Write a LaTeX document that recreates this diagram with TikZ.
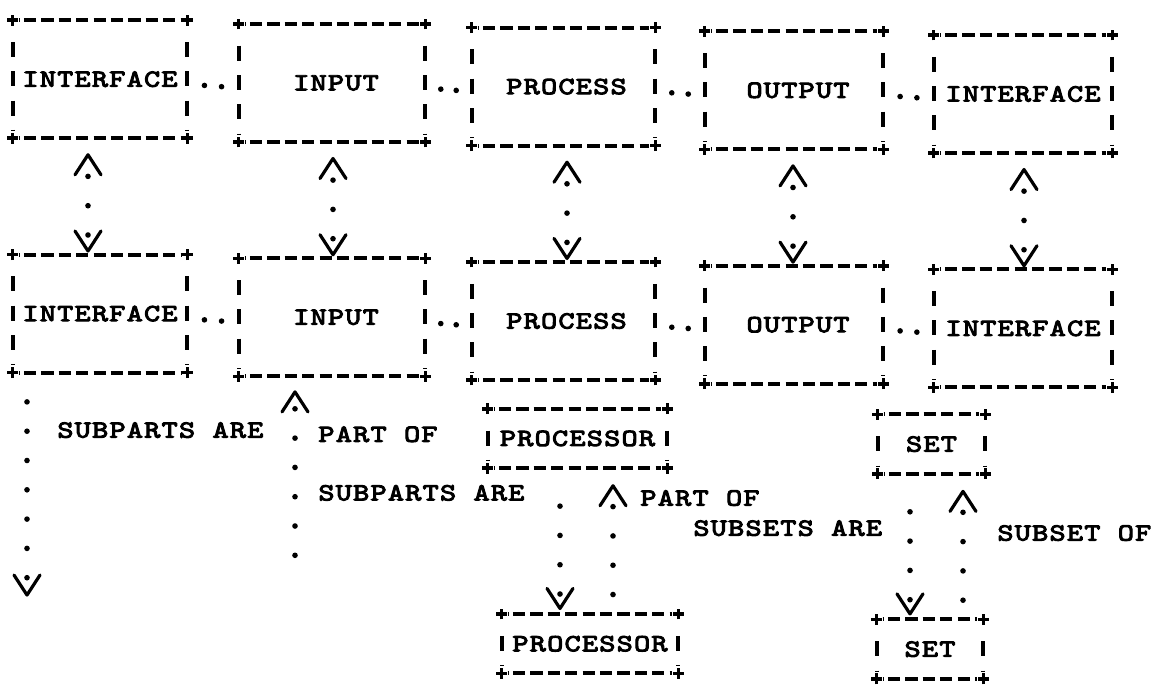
\documentclass[tikz,border=0pt]{standalone}
\usepackage{fontspec}
\newfontfamily\tw{lmmono10-regular.otf}[FakeStretch=1.25,LetterSpace=5,FakeBold=4]
\usetikzlibrary{arrows.meta,calc,decorations.markings}
\newcommand\twf{\tw\fontsize{12.3pt}{14pt}\selectfont}
\tikzset{
  chev/.tip={Straight Barb[length=10pt,width=13pt,line width=1.6pt,round]},
  plusmark/.pic={\draw[line width=1.8pt] (-2.7pt,0)--(2.7pt,0) (0,-2.7pt)--(0,2.7pt);},
  hside/.style={line width=2pt, dash pattern=on 6.1pt off 2.6pt, dash phase=6.05pt, shorten <=3pt, shorten >=3pt},
  vside/.style={line width=2pt, dash pattern=on 7.5pt off 7.15pt, dash phase=7.75pt, shorten <=4pt, shorten >=4pt},
  dotline/.style={line width=2.8pt, line cap=round, dash pattern=on 0pt off 14.65pt},
  hdots/.style={decoration={markings,
      mark=at position 0.333 with {\fill (0pt,0pt) circle (1.4pt);},
      mark=at position 0.667 with {\fill (0pt,0pt) circle (1.4pt);}}, decorate},
  tb/.style={inner sep=0pt, font=\twf, minimum height=58.6pt},
  sb/.style={inner sep=0pt, font=\twf, minimum height=29.3pt},
  lbl/.style={inner sep=0pt, font=\twf, anchor=west},
}
\newcommand\tbox[1]{%
  \draw[hside] (#1.north west) -- (#1.north east);
  \draw[hside] (#1.south west) -- (#1.south east);
  \draw[vside] (#1.north west) -- (#1.south west);
  \draw[vside] (#1.north east) -- (#1.south east);
  \pic at (#1.north west) {plusmark};
  \pic at (#1.north east) {plusmark};
  \pic at (#1.south west) {plusmark};
  \pic at (#1.south east) {plusmark};}
\begin{document}
\begin{tikzpicture}[x={(0.5pt,-0.008pt)}, y={(0,-14.65pt)}]
\useasboundingbox[fill=white] (0pt,9.5pt) rectangle (577.5pt,-333pt);
% row 1
\node[tb, minimum width=87pt]   (A1) at (100,2)   {INTERFACE};
\node[tb, minimum width=93pt]   (A2) at (332,2)   {\hspace{4pt}INPUT};
\node[tb, minimum width=91.5pt] (A3) at (563.5,2) {\hspace{3pt}PROCESS};
\node[tb, minimum width=89pt]   (A4) at (794,2)   {\hspace{4pt}OUTPUT};
\node[tb, minimum width=89pt]   (A5) at (1023,2)  {INTERFACE};
% row 2
\node[tb, minimum width=87pt]   (B1) at (100,10)   {INTERFACE};
\node[tb, minimum width=93pt]   (B2) at (332,10)   {\hspace{4pt}INPUT};
\node[tb, minimum width=91.5pt] (B3) at (563.5,10) {\hspace{3pt}PROCESS};
\node[tb, minimum width=89pt]   (B4) at (794,10)   {\hspace{4pt}OUTPUT};
\node[tb, minimum width=89pt]   (B5) at (1023,10)  {INTERFACE};
% small boxes
\node[sb, minimum width=89.5pt] (P1) at (577.5,14) {PROCESSOR};
\node[sb, minimum width=88pt]   (P2) at (590,21)   {PROCESSOR};
\node[sb, minimum width=53.5pt] (S1) at (931.5,14) {SET};
\node[sb, minimum width=53pt]   (S2) at (930,21)   {SET};
\foreach \n in {A1,A2,A3,A4,A5,B1,B2,B3,B4,B5,P1,P2,S1,S2} {\tbox{\n}}
% labels
\node[lbl] (t1) at (57,14)  {SUBPARTS ARE};
\node[lbl] (t2) at (318,14) {PART OF};
\node[lbl] (t3) at (318,16) {SUBPARTS ARE};
\node[lbl] (t4) at (640,16) {PART OF};
\node[lbl] (t5) at (693,17) {SUBSETS ARE};
\node[lbl] (t6) at (997,17) {SUBSET OF};
% horizontal .. links
\foreach \a/\b in {A1/A2,A2/A3,A3/A4,A4/A5,B1/B2,B2/B3,B3/B4,B4/B5}
  \path[hdots] ([yshift=-2.5pt]\a.east) -- ([yshift=-2.5pt]\b.west);
% row 1 <-> row 2
\foreach \a/\b/\x in {A1/B1/88,A2/B2/333,A3/B3/567,A4/B4/793,A5/B5/1024} {
  \coordinate (t) at (\x,0);
  \draw[dotline, dash phase=4.65pt, chev-chev] ($(\a.south -| t)+(0,-7.5pt)$) -- ($(\b.north -| t)+(0,1pt)$);
}
% left column: subparts
\coordinate (L1) at (27,0);
\coordinate (Lend) at (27,19.7);
\draw[dotline, -chev, shorten <=14.65pt] (B1.south -| L1) -- (Lend);
% input column: part of
\coordinate (I1) at (295,0);
\coordinate (Iend) at (295,19.12);
\draw[dotline, dash phase=7pt, chev-] ($(B2.south -| I1)+(0,-7pt)$) -- (Iend);
% processor links
\coordinate (PL) at (560,0);
\coordinate (PR) at (613,0);
\draw[dotline, -chev, shorten <=19pt] (P1.south -| PL) -- ($(P2.north -| PL)+(0,2pt)$);
\draw[dotline, dash phase=5pt, chev-] ($(P1.south -| PR)+(0,-8pt)$) -- (P2.north -| PR);
% set links
\coordinate (SL) at (910,0);
\coordinate (SR) at (963,0);
\draw[dotline, -chev, shorten <=19pt] (S1.south -| SL) -- ($(S2.north -| SL)+(0,2pt)$);
\draw[dotline, dash phase=5pt, chev-] ($(S1.south -| SR)+(0,-8pt)$) -- (S2.north -| SR);
\end{tikzpicture}
\end{document}
